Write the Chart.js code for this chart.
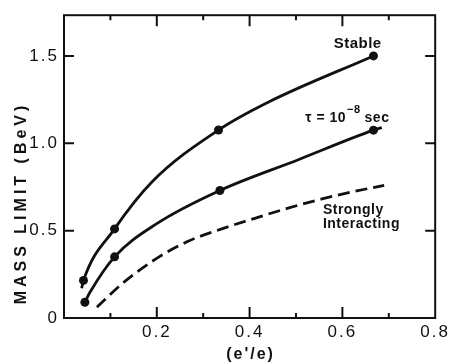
<!DOCTYPE html>
<html>
<head>
<meta charset="utf-8">
<script src="https://cdn.jsdelivr.net/npm/chart.js@4"></script>
<style>
  html, body { margin: 0; padding: 0; background: #fff; }
  #wrap { width: 451px; height: 362px; }
</style>
</head>
<body>
<div id="wrap"><canvas id="mass"></canvas></div>
<script>
// mass limit against charge ratio e'/e
// dots mark the computed values, the other points trace the drawn curve
const stableX = [0.038, 0.042, 0.109, 0.19, 0.333, 0.44, 0.667];
const stableY = [0.17, 0.215, 0.51, 0.78, 1.076, 1.235, 1.5];
const stableDots = [0, 1, 1, 0, 1, 0, 1];

const tauX = [0.045, 0.056, 0.109, 0.2, 0.336, 0.505, 0.667, 0.685];
const tauY = [0.09, 0.147, 0.35, 0.54, 0.73, 0.906, 1.075, 1.09];
const tauDots = [1, 0, 1, 0, 1, 0, 1, 0];

const strongX = [0.071, 0.126, 0.199, 0.27, 0.34, 0.413, 0.483, 0.554, 0.627, 0.69];
const strongY = [0.062, 0.198, 0.34, 0.442, 0.51, 0.572, 0.629, 0.68, 0.725, 0.759];

const xTicks = [0.2, 0.4, 0.6, 0.8];
const xMinor = [0.1, 0.3, 0.5, 0.7];
const yTicks = [0, 0.5, 1.0, 1.5];
const yTickLabels = ['0', '0.5', '1.0', '1.5'];

const INK = '#111';
const FONT = '"Liberation Sans", Arial, sans-serif';

function pts(xs, ys) {
    return xs.map((v, i) => ({ x: v, y: ys[i] }));
}

// box with inward ticks on all four sides, axis title and curve labels
const frame = {
    id: 'frame',
    beforeDraw(chart) {
        chart.ctx.letterSpacing = '2px';
    },
    afterDraw(chart) {
        const { ctx, chartArea: a, scales: { x, y } } = chart;
        ctx.save();
        ctx.letterSpacing = '0px';
        ctx.strokeStyle = INK;
        ctx.lineWidth = 2;
        ctx.strokeRect(a.left, a.top, a.right - a.left, a.bottom - a.top);

        ctx.beginPath();
        xTicks.forEach(v => {
            if (v >= x.max) return;
            const px = x.getPixelForValue(v);
            ctx.moveTo(px, a.bottom); ctx.lineTo(px, a.bottom - 11);
            ctx.moveTo(px, a.top); ctx.lineTo(px, a.top + 11);
        });
        xMinor.forEach(v => {
            const px = x.getPixelForValue(v);
            ctx.moveTo(px, a.bottom); ctx.lineTo(px, a.bottom - 5);
            ctx.moveTo(px, a.top); ctx.lineTo(px, a.top + 5);
        });
        yTicks.forEach(v => {
            if (v <= y.min) return;
            const py = y.getPixelForValue(v);
            ctx.moveTo(a.left, py); ctx.lineTo(a.left + 10, py);
            ctx.moveTo(a.right, py); ctx.lineTo(a.right - 10, py);
        });
        ctx.stroke();

        ctx.fillStyle = INK;

        // y axis title
        ctx.save();
        ctx.translate(22, 203);
        ctx.rotate(-Math.PI / 2);
        ctx.letterSpacing = '4px';
        ctx.font = 'bold 16px ' + FONT;
        ctx.textAlign = 'center';
        ctx.textBaseline = 'middle';
        ctx.fillText('MASS LIMIT (BeV)', 0, 0);
        ctx.restore();

        // x axis title
        ctx.letterSpacing = '2px';
        ctx.font = 'bold 16px ' + FONT;
        ctx.textAlign = 'center';
        ctx.textBaseline = 'middle';
        ctx.fillText("(e'/e)", (a.left + a.right) / 2 + 1, 355);

        ctx.letterSpacing = '0.5px';
        ctx.textBaseline = 'alphabetic';

        ctx.font = 'bold 15px ' + FONT;
        ctx.fillText('Stable', x.getPixelForValue(0.633), y.getPixelForValue(1.547));

        ctx.textAlign = 'left';
        ctx.font = 'bold 14px ' + FONT;
        let tx = x.getPixelForValue(0.52);
        const ty = y.getPixelForValue(1.122);
        ctx.fillText('\u03c4 = 10', tx, ty);
        tx += ctx.measureText('\u03c4 = 10').width + 1;
        ctx.font = 'bold 11px ' + FONT;
        ctx.fillText('\u22128', tx, ty - 9);
        tx += ctx.measureText('\u22128').width + 4;
        ctx.font = 'bold 14px ' + FONT;
        ctx.fillText('sec', tx, ty);

        const sx = x.getPixelForValue(0.558);
        ctx.fillText('Strongly', sx, y.getPixelForValue(0.595));
        ctx.fillText('Interacting', sx, y.getPixelForValue(0.516));
        ctx.restore();
    }
};

const curve = {
    borderColor: INK,
    borderWidth: 2.8,
    pointBackgroundColor: INK,
    pointBorderWidth: 0,
    pointHoverRadius: 0,
    cubicInterpolationMode: 'monotone',
    fill: false,
};

new Chart(document.getElementById('mass'), {
    type: 'line',
    data: {
        datasets: [
            { ...curve, label: 'Stable', data: pts(stableX, stableY), pointRadius: stableDots.map(d => d * 4.5) },
            { ...curve, label: 'tau = 1e-8 sec', data: pts(tauX, tauY), pointRadius: tauDots.map(d => d * 4.5) },
            { ...curve, label: 'Strongly Interacting', data: pts(strongX, strongY), pointRadius: 0, borderDash: [12, 6] },
        ],
    },
    options: {
        responsive: true,
        maintainAspectRatio: false,
        animation: false,
        layout: { padding: { top: 12, right: 13, left: 0, bottom: 0 } },
        plugins: {
            legend: { display: false },
            tooltip: { enabled: false },
        },
        scales: {
            x: {
                type: 'linear',
                min: 0,
                max: 0.8,
                grid: { display: false, drawTicks: false },
                border: { display: false },
                afterBuildTicks: s => { s.ticks = xTicks.map(v => ({ value: v })); },
                afterFit: s => { s.height = 44; },
                ticks: {
                    color: INK,
                    font: { family: FONT, size: 17 },
                    padding: 4,
                    maxRotation: 0,
                    autoSkip: false,
                    callback: v => v.toFixed(1),
                },
            },
            y: {
                type: 'linear',
                min: 0,
                max: 1.733,
                grid: { display: false, drawTicks: false },
                border: { display: false },
                afterBuildTicks: s => { s.ticks = yTicks.map(v => ({ value: v })); },
                afterFit: s => { s.width = 64; },
                ticks: {
                    color: INK,
                    font: { family: FONT, size: 17 },
                    padding: 5,
                    autoSkip: false,
                    callback: (v, i) => yTickLabels[i],
                },
            },
        },
    },
    plugins: [frame],
});
</script>
</body>
</html>
